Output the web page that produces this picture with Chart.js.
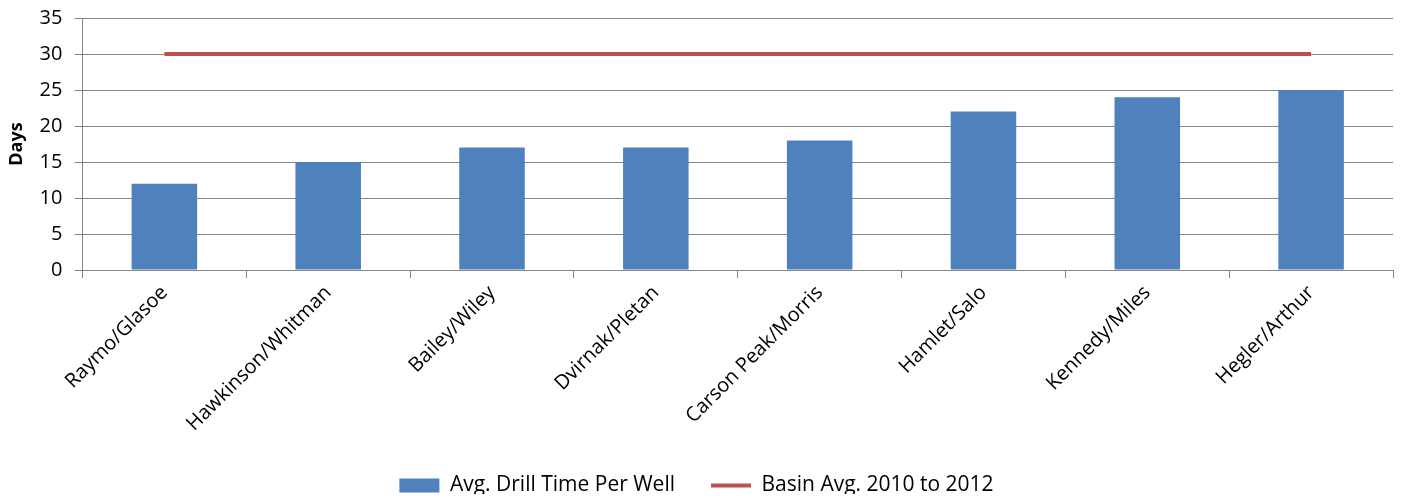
<!DOCTYPE html>
<html>
<head>
<meta charset="utf-8">
<script src="https://cdn.jsdelivr.net/npm/chart.js@4.4.0/dist/chart.umd.min.js"></script>
<style>
  html, body { margin: 0; padding: 0; background: #fff; }
  #wrap { width: 1402px; height: 498px; }
</style>
</head>
<body>
<div id="wrap"><canvas id="chart"></canvas></div>
<script>
const crews = ['Raymo/Glasoe', 'Hawkinson/Whitman', 'Bailey/Wiley', 'Dvirnak/Pletan',
    'Carson Peak/Morris', 'Hamlet/Salo', 'Kennedy/Miles', 'Hegler/Arthur'];
const drillDays = [12, 15, 17, 17, 18, 22, 24, 25];
const basinAvg = [30, 30, 30, 30, 30, 30, 30, 30];

const font = "'Open Sans', 'Liberation Sans', sans-serif";
const gridGray = '#868686';

// legend keeps its wide horizontal gap but uses less height
const legendTrim = {
    id: 'legendTrim',
    beforeLayout(chart) {
        const lg = chart.legend;
        if (lg && !lg._trimmed) {
            const fit = lg.fit;
            lg.fit = function() {
                fit.call(this);
                this.height -= 12;
            };
            lg._trimmed = true;
        }
    }
};

const ctx = document.getElementById('chart').getContext('2d');
new Chart(ctx, {
    type: 'bar',
    data: {
        labels: crews,
        datasets: [
            {
                type: 'line',
                label: 'Basin Avg. 2010 to 2012',
                data: basinAvg,
                borderColor: '#C0504D',
                backgroundColor: '#C0504D',
                borderWidth: 4,
                pointRadius: 0,
                pointStyle: 'line',
                order: 0
            },
            {
                label: 'Avg. Drill Time Per Well',
                data: drillDays,
                backgroundColor: '#4F81BD',
                borderColor: '#4F81BD',
                pointStyle: 'rect',
                categoryPercentage: 1,
                barPercentage: 0.4,
                order: 1
            }
        ]
    },
    plugins: [legendTrim],
    options: {
        responsive: true,
        maintainAspectRatio: false,
        animation: false,
        layout: { padding: { top: 4, right: 9, left: 0, bottom: 4 } },
        plugins: {
            tooltip: { enabled: false },
            legend: {
                position: 'bottom',
                reverse: true,
                labels: {
                    usePointStyle: true,
                    pointStyleWidth: 40,
                    boxHeight: 14,
                    padding: 36,
                    color: '#000',
                    font: { family: font, size: 21 }
                }
            }
        },
        scales: {
            x: {
                offset: true,
                grid: {
                    offset: true,
                    drawOnChartArea: false,
                    drawTicks: true,
                    tickLength: 8,
                    color: gridGray
                },
                border: { display: true, color: gridGray },
                ticks: {
                    minRotation: 45,
                    maxRotation: 45,
                    color: '#000',
                    padding: 3,
                    font: { family: font, size: 20 }
                },
                afterFit(scale) { scale.paddingTop = 0; }
            },
            y: {
                min: 0,
                max: 35,
                ticks: {
                    stepSize: 5,
                    color: '#000',
                    padding: 12,
                    font: { family: font, size: 20 }
                },
                grid: { color: gridGray, tickLength: 8 },
                border: { display: true, color: gridGray },
                title: {
                    display: true,
                    text: 'Days',
                    color: '#000',
                    padding: { top: 6, bottom: 0 },
                    font: { family: font, size: 18, weight: 'bold' }
                },
                afterFit(scale) { scale.paddingTop = 18; }
            }
        }
    }
});
</script>
</body>
</html>
